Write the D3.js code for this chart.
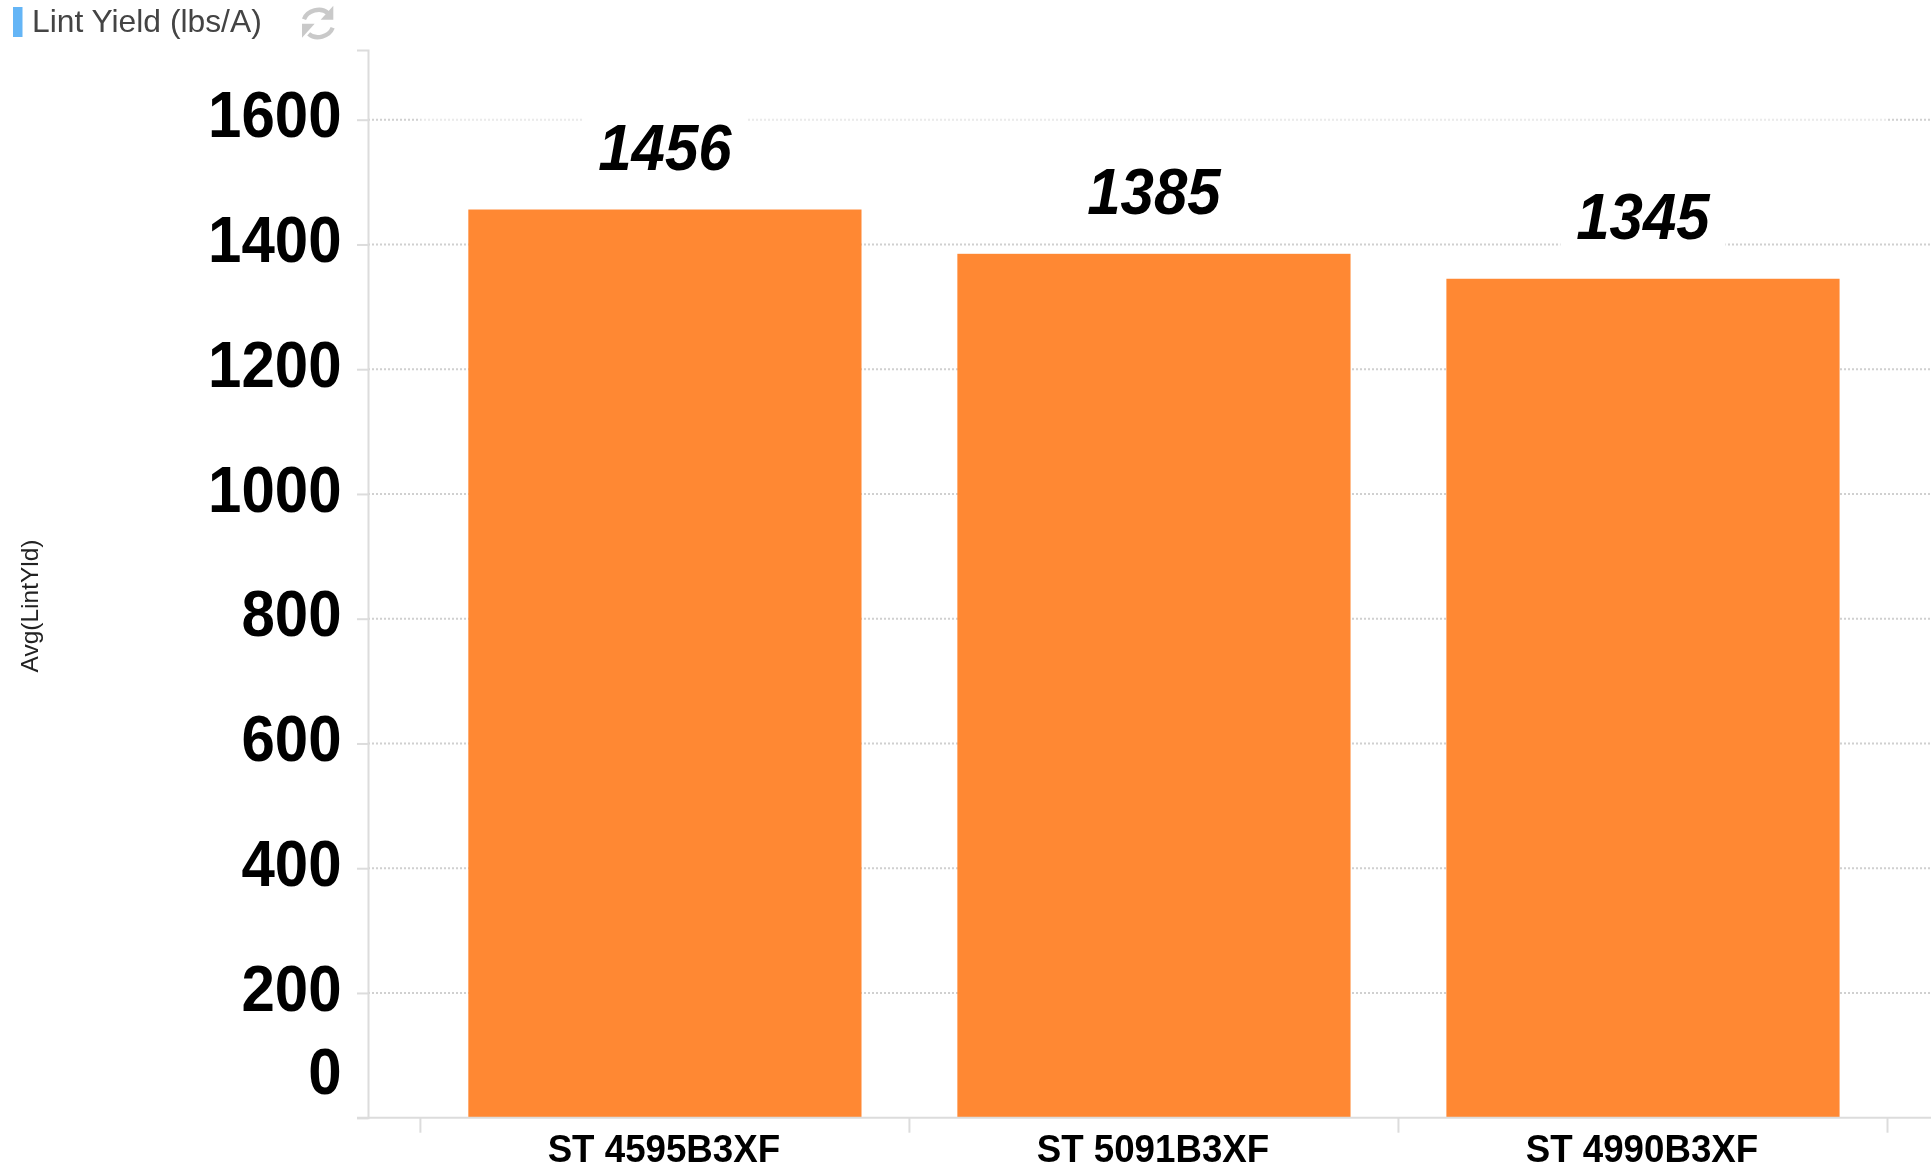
<!DOCTYPE html>
<html>
<head>
<meta charset="utf-8">
<script src="https://cdnjs.cloudflare.com/ajax/libs/d3/7.8.5/d3.min.js"></script>
<style>
html,body{margin:0;padding:0;background:#fff;overflow:hidden}
svg{display:block;filter:blur(0.55px)}
text{font-family:"Liberation Sans",Arial,sans-serif}
</style>
</head>
<body>
<div id="chart"></div>
<script>
const categories = ["ST 4595B3XF", "ST 5091B3XF", "ST 4990B3XF"];
const lintYield = [1456, 1385, 1345];
const yTicks = [0, 200, 400, 600, 800, 1000, 1200, 1400, 1600];
const chartTitle = "Lint Yield (lbs/A)";
const yAxisTitle = "Avg(LintYld)";

const W = 1931, H = 1166;
const baseY = 1117.7, unit = 0.62375, topY = 50, leftX = 368;
const stretch = 1.07;
const axisColor = "#dcdcdc", gridColor = "#d0d0d0", barColor = "#ff8833";

const svg = d3.select("#chart").append("svg").attr("width", W).attr("height", H);

const x = d3.scaleBand().domain(categories).range([420.4, 1887.5])
  .paddingInner(0.196).paddingOuter(0.098);
const y = d3.scaleLinear().domain([0, (baseY - topY) / unit]).range([baseY, topY]);

// gridlines
svg.append("g").selectAll("line").data(yTicks.filter(d => d > 0)).join("line")
  .attr("x1", leftX).attr("x2", W)
  .attr("y1", d => y(d)).attr("y2", d => y(d))
  .attr("stroke", gridColor).attr("stroke-width", 2).attr("stroke-dasharray", "2 2");

// the top gridline is paler between the outer category ticks
const edge = x.step() * x.paddingOuter();
svg.append("rect")
  .attr("x", x(categories[0]) - edge)
  .attr("width", x.step() * categories.length)
  .attr("y", y(1600) - 2).attr("height", 4)
  .attr("fill", "#fff").attr("opacity", 0.55);

// bars
svg.append("g").selectAll("rect").data(lintYield).join("rect")
  .attr("x", (d, i) => x(categories[i]))
  .attr("width", x.bandwidth())
  .attr("y", d => y(d))
  .attr("height", d => y(0) - y(d))
  .attr("fill", barColor);

// value labels with their white boxes
const labels = svg.append("g").selectAll("g").data(lintYield).join("g")
  .attr("transform", (d, i) => `translate(${x(categories[i]) + x.bandwidth() / 2},${y(d) - 40})`);
labels.append("rect")
  .attr("x", -82.5).attr("width", 165)
  .attr("y", -53).attr("height", 62)
  .attr("fill", "#fff");
labels.append("text")
  .attr("text-anchor", "middle")
  .attr("transform", `scale(1,${stretch})`)
  .attr("font-size", 60).attr("font-weight", "bold").attr("font-style", "italic")
  .attr("fill", "#000")
  .text(d => d);

// y axis
const yAxis = svg.append("g").attr("transform", `translate(${leftX},0)`)
  .call(d3.axisLeft(y).tickValues(yTicks).tickFormat(d3.format("d")).tickSize(11).tickPadding(0));
yAxis.select(".domain").attr("stroke", axisColor).attr("stroke-width", 2);
yAxis.selectAll(".tick line").attr("stroke", axisColor).attr("stroke-width", 2);
yAxis.selectAll(".tick text")
  .attr("x", -26.5)
  .attr("dy", null)
  .attr("y", d => (d === 0 ? -24 : 17.2) / stretch)
  .attr("transform", `scale(1,${stretch})`)
  .attr("text-anchor", "end")
  .attr("font-size", 60).attr("font-weight", "bold")
  .attr("font-family", '"Liberation Sans",Arial,sans-serif')
  .attr("fill", "#000");

// x axis
svg.append("line")
  .attr("x1", leftX - 11).attr("x2", W).attr("y1", baseY).attr("y2", baseY)
  .attr("stroke", axisColor).attr("stroke-width", 2);
const tickEdges = categories.map(c => x(c) - edge).concat(x(categories[2]) + x.bandwidth() + edge);
svg.append("g").selectAll("line").data(tickEdges).join("line")
  .attr("x1", d => d).attr("x2", d => d)
  .attr("y1", baseY).attr("y2", baseY + 15)
  .attr("stroke", axisColor).attr("stroke-width", 2);
svg.append("g").selectAll("text").data(categories).join("text")
  .attr("x", d => x(d) + x.bandwidth() / 2 - 1)
  .attr("y", 1162.5 / stretch)
  .attr("transform", `scale(1,${stretch})`)
  .attr("text-anchor", "middle")
  .attr("font-size", 36.7).attr("font-weight", "bold")
  .attr("fill", "#000")
  .text(d => d);

// y axis title
svg.append("text")
  .attr("transform", "translate(38,606) rotate(-90)")
  .attr("text-anchor", "middle")
  .attr("font-size", 24.5).attr("fill", "#222")
  .text(yAxisTitle);

// header
svg.append("rect").attr("x", 13).attr("y", 7).attr("width", 9.5).attr("height", 30).attr("fill", "#64b5f6");
svg.append("text").attr("x", 32).attr("y", 31.5)
  .attr("font-size", 31.8).attr("fill", "#444")
  .text(chartTitle);

// refresh icon
const icon = svg.append("g").attr("transform", "translate(290,-1.5) scale(0.3333)").attr("fill", "none");
icon.append("path").attr("d", "M42 62 C52 36 92 24 114 44").attr("stroke", "#c9c9c9").attr("stroke-width", 13);
icon.append("path").attr("d", "M130 22 L130 64 L92 64 Z").attr("fill", "#c9c9c9");
icon.append("path").attr("d", "M128 88 C118 114 78 126 56 106").attr("stroke", "#c9c9c9").attr("stroke-width", 13);
icon.append("path").attr("d", "M36 118 L36 76 L74 76 Z").attr("fill", "#c9c9c9");
</script>
</body>
</html>
